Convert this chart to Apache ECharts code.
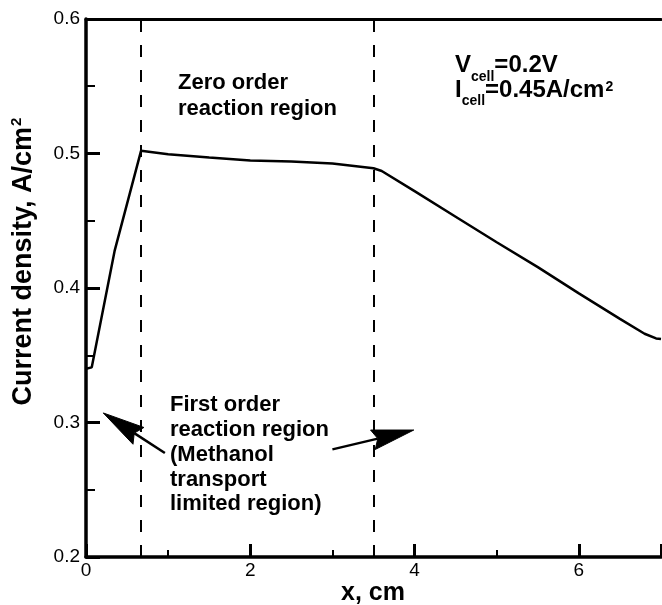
<!DOCTYPE html>
<html><head><meta charset="utf-8">
<script src="https://cdn.jsdelivr.net/npm/echarts@6/dist/echarts.min.js"></script>
<style>html,body{margin:0;padding:0;background:#fff}#c{width:662px;height:605px}</style>
</head><body><div id="c"></div>
<script>
// ---- data ----
const xValues = [0, 0.07, 0.35, 0.67, 1.0, 1.5, 2.0, 2.5, 3.0, 3.5, 3.6, 4.0, 4.5, 5.0, 5.5, 6.0, 6.5, 6.8, 6.94, 7.0];
const currentDensity = [0.340, 0.341, 0.428, 0.502, 0.4995, 0.497, 0.4948, 0.494, 0.4925, 0.489, 0.487, 0.472, 0.453, 0.434, 0.4155, 0.396, 0.377, 0.366, 0.3625, 0.362];
const regionBoundaries = [0.67, 3.5];
const arrowTails = [[0.96, 0.2773], [3.0, 0.280]];
const arrowTips = [[0.21, 0.3071], [3.99, 0.2944]];
const xAxisRange = {min: 0, max: 7, interval: 2};
const yAxisRange = {min: 0.2, max: 0.6, interval: 0.1};
const xTitle = 'x, cm';
const yTitleMain = 'Current density, A/cm';
const zeroOrderText = 'Zero order\nreaction region';
const firstOrderText = 'First order\nreaction region\n(Methanol\ntransport\nlimited region)';

const FONT = '"Liberation Sans", Arial, Helvetica, sans-serif';
const chart = echarts.init(document.getElementById('c'), null, {renderer: 'canvas'});

const option = {
  animation: false,
  backgroundColor: '#fff',
  grid: {left: 86, right: 1, top: 19, bottom: 48, containLabel: false},
  xAxis: [{
    type: 'value', min: xAxisRange.min, max: xAxisRange.max, interval: xAxisRange.interval,
    axisLine: {show: true, onZero: false, lineStyle: {color: '#000', width: 3.5}},
    axisTick: {show: true, inside: true, length: 13, lineStyle: {color: '#000', width: 3}},
    minorTick: {show: true, splitNumber: 2, length: 7, lineStyle: {color: '#000', width: 2}},
    splitLine: {show: false},
    axisLabel: {color: '#000', fontSize: 19, fontFamily: FONT, margin: 4, showMaxLabel: false,
      formatter: v => String(v)}
  }, {
    type: 'value', position: 'top', min: xAxisRange.min, max: xAxisRange.max,
    axisLine: {show: true, lineStyle: {color: '#000', width: 3}},
    axisTick: {show: false}, axisLabel: {show: false}, splitLine: {show: false}
  }],
  yAxis: [{
    type: 'value', min: yAxisRange.min, max: yAxisRange.max, interval: yAxisRange.interval,
    axisLine: {show: true, onZero: false, lineStyle: {color: '#000', width: 3.5}},
    axisTick: {show: true, inside: true, length: 14, lineStyle: {color: '#000', width: 3}},
    minorTick: {show: true, splitNumber: 2, length: 9, lineStyle: {color: '#000', width: 2}},
    splitLine: {show: false},
    axisLabel: {color: '#000', fontSize: 19, fontFamily: FONT, margin: 6,
      formatter: v => v.toFixed(1)}
  }, {
    type: 'value', position: 'right', min: yAxisRange.min, max: yAxisRange.max,
    axisLine: {show: true, lineStyle: {color: '#000', width: 1.5}},
    axisTick: {show: false}, axisLabel: {show: false}, splitLine: {show: false}
  }],
  series: [{
    type: 'line',
    data: xValues.map((x, i) => [x, currentDensity[i]]),
    showSymbol: false, symbol: 'none', smooth: false,
    lineStyle: {color: '#000', width: 2.5},
    markLine: {
      silent: true, symbol: ['none', 'none'], label: {show: false},
      lineStyle: {color: '#000', width: 2, type: [12, 13]},
      data: regionBoundaries.map(v => ({xAxis: v}))
    }
  }]
};
chart.setOption(option);

// ---- annotations ----
const ctx = document.createElement('canvas').getContext('2d');
function tw(t, size, weight) { ctx.font = weight + ' ' + size + 'px ' + FONT; return ctx.measureText(t).width; }
function txt(x, y, text, size, weight, extra) {
  return Object.assign({
    type: 'text', x: x, y: y, silent: true,
    style: Object.assign({text: text, fill: '#000', fontSize: size, fontWeight: weight, fontFamily: FONT,
      align: 'left', textAlign: 'left', verticalAlign: 'middle', textVerticalAlign: 'middle'}, extra || {})
  });
}
const g = [];
// region labels
g.push(txt(178, 70, zeroOrderText, 22, 'bold', {verticalAlign: 'top', textVerticalAlign: 'top', lineHeight: 26}));
g.push(txt(170, 393, firstOrderText, 22, 'bold', {verticalAlign: 'top', textVerticalAlign: 'top', lineHeight: 24.75}));
// Vcell line
let x0 = 455;
g.push(txt(x0, 65.7, 'V', 24, 'bold'));
let x1 = x0 + tw('V', 24, 'bold');
g.push(txt(x1, 77.2, 'cell', 14, 'bold'));
let x2 = x1 + tw('cell', 14, 'bold');
g.push(txt(x2, 65.7, '=0.2V', 24, 'bold'));
// Icell line
g.push(txt(x0, 90.2, 'I', 24, 'bold'));
let y1 = x0 + tw('I', 24, 'bold');
g.push(txt(y1, 101.6, 'cell', 14, 'bold'));
let y2 = y1 + tw('cell', 14, 'bold');
g.push(txt(y2, 90.2, '=0.45A/cm', 24, 'bold'));
let y3 = y2 + tw('=0.45A/cm', 24, 'bold') + 1;
g.push(txt(y3, 87.2, '2', 14, 'bold'));
// axis titles
const TS = 27;
const wMain = tw(yTitleMain, TS, 'bold');
const wSup = tw('2', 15, 'bold');
const totalW = wMain + wSup;
const cy = 262, cx = 24;
g.push({type: 'group', x: cx, y: cy, rotation: Math.PI / 2, silent: true, children: [
  txt(-totalW / 2, 0, yTitleMain, TS, 'bold'),
  txt(-totalW / 2 + wMain + 1, -7, '2', 15, 'bold')
]});
g.push(txt(373, 593, xTitle, 25, 'bold', {align: 'center', textAlign: 'center'}));

// arrows
arrowTails.forEach((tailD, i) => {
  const tail = chart.convertToPixel({xAxisIndex: 0, yAxisIndex: 0}, tailD);
  const tip = chart.convertToPixel({xAxisIndex: 0, yAxisIndex: 0}, arrowTips[i]);
  let dx = tip[0] - tail[0], dy = tip[1] - tail[1];
  const len = Math.hypot(dx, dy); dx /= len; dy /= len;
  const L = 42, W = 10;
  const px = -dy, py = dx;
  const bx = tip[0] - dx * L, by = tip[1] - dy * L;
  const nx = tip[0] - dx * L * 0.88, ny = tip[1] - dy * L * 0.88;
  g.push({type: 'line', silent: true, shape: {x1: tail[0], y1: tail[1], x2: nx, y2: ny},
    style: {stroke: '#000', lineWidth: 2.5}});
  g.push({type: 'polygon', silent: true, shape: {points: [tip, [bx + px * W, by + py * W], [nx, ny], [bx - px * W, by - py * W]]},
    style: {fill: '#000', stroke: '#000', lineWidth: 1}});
});
chart.setOption({graphic: g});
</script></body></html>
